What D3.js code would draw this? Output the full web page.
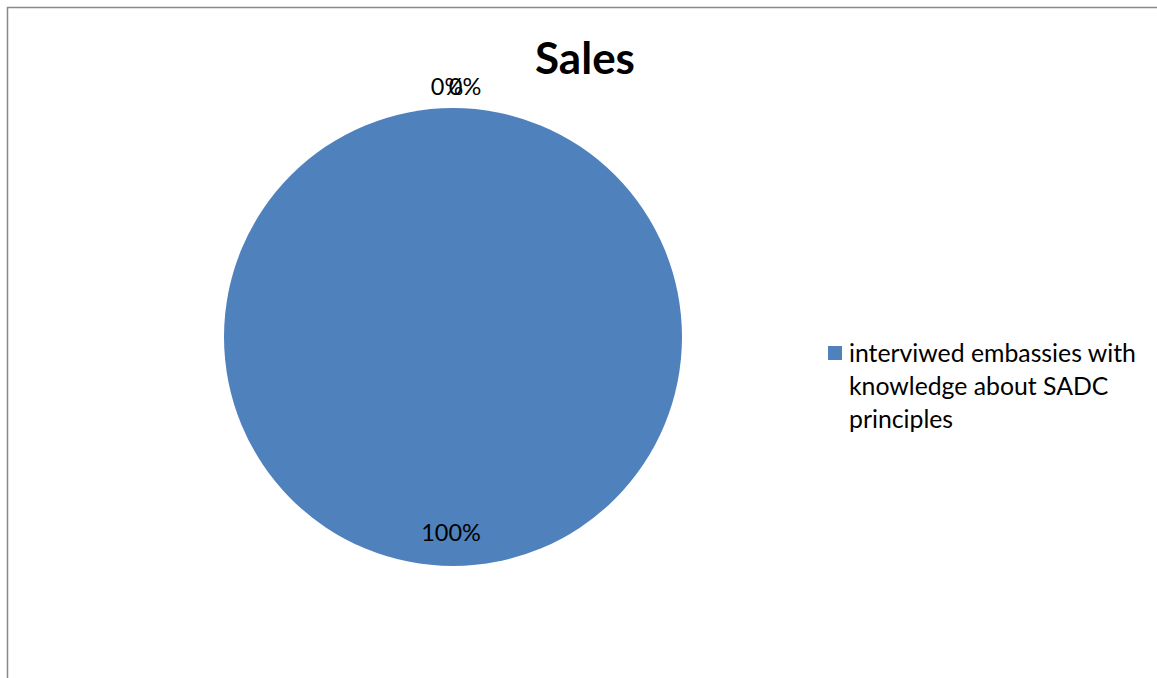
<!DOCTYPE html>
<html><head><meta charset="utf-8">
<script src="https://cdn.jsdelivr.net/npm/d3@7"></script>
<style>body{margin:0;background:#fff;} svg{display:block;}</style>
</head><body>
<svg id="c" width="1157" height="678"></svg>
<script>
const title = "Sales";
const categories = ["interviwed embassies with knowledge about SADC principles", "", ""];
const values = [100, 0, 0];
const labels = ["100%", "0%", "0%"];
const colors = ["#4F81BD", "#C0504D", "#9BBB59"];

const svg = d3.select("#c");
const font = "Lato, 'Open Sans', sans-serif";

// chart frame
svg.append("path").attr("d", "M7.5,678 L7.5,7.5 L1157,7.5").attr("fill","none").attr("stroke","#898989").attr("stroke-width",1.5);

svg.append("text").attr("x", 585).attr("y", 74).attr("text-anchor","middle")
  .attr("font-family", font).attr("font-weight","bold").attr("font-size", 44).text(title);

const cx = 453, cy = 337, R = 229;
const pie = d3.pie().sort(null).value(d => d)(values);
const arc = d3.arc().innerRadius(0).outerRadius(R);
const g = svg.append("g").attr("transform", `translate(${cx},${cy})`);
g.selectAll("path").data(pie).join("path").attr("d", arc).attr("fill", (d,i) => colors[i]);

const lblIn = d3.arc().innerRadius(R*0.85).outerRadius(R*0.85);
const lblOut = d3.arc().innerRadius(R+22).outerRadius(R+22);
const xShift = [-2, -6, 12];
g.selectAll("text").data(pie).join("text")
  .attr("transform", (d,i) => {
    const p = (d.value > 0 ? lblIn : lblOut).centroid(d);
    return `translate(${p[0] + xShift[i]},${p[1]})`;
  })
  .attr("text-anchor","middle").attr("dominant-baseline","central")
  .attr("font-family", font).attr("font-size", 23.5).attr("fill","#000")
  .text((d,i) => labels[i]);

// legend (only named category)
const lg = svg.append("g").attr("transform","translate(828,346)");
lg.append("rect").attr("width",14).attr("height",14).attr("fill", colors[0]);
const lines = ["interviwed embassies with", "knowledge about SADC", "principles"];
lg.append("text").attr("font-family", font).attr("font-size", 24.8).attr("fill","#000")
  .selectAll("tspan").data(lines).join("tspan")
  .attr("x", 21).attr("y", (d,i) => 16 + i*33).text(d => d);
</script>
</body></html>
